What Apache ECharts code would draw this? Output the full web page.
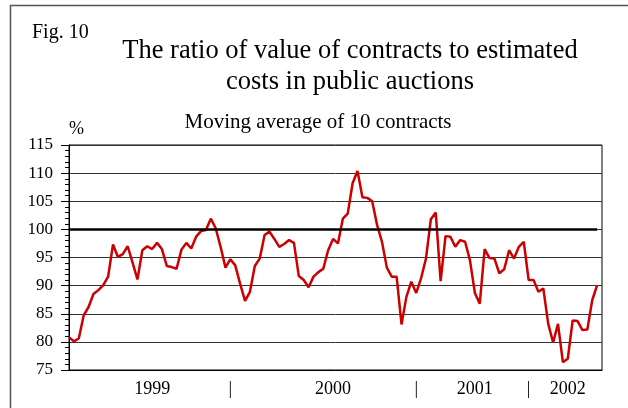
<!DOCTYPE html>
<html>
<head>
<meta charset="utf-8">
<script src="https://cdn.jsdelivr.net/npm/echarts@6/dist/echarts.min.js"></script>
<style>
  html, body { margin: 0; padding: 0; background: #fff; }
  #chart { width: 628px; height: 408px; }
</style>
</head>
<body>
<div id="chart"></div>
<script>
// Ratio (%) of contract value to estimated cost, moving average of 10 contracts
const ratio = [
  80.8, 80.1, 80.6, 84.7, 86.2, 88.5, 89.2, 90.1, 91.6, 97.3,
  95.1, 95.6, 97.0, 94.1, 91.1, 96.3, 97.0, 96.5, 97.6, 96.5,
  93.5, 93.3, 93.0, 96.4, 97.6, 96.6, 98.7, 99.7, 99.9, 101.9,
  100.2, 96.9, 93.2, 94.7, 93.6, 90.3, 87.3, 88.9, 93.5, 94.8,
  99.0, 99.6, 98.3, 96.9, 97.4, 98.1, 97.6, 91.7, 91.0, 89.7,
  91.6, 92.4, 93.0, 96.3, 98.3, 97.5, 101.9, 102.8, 108.2, 110.4,
  105.7, 105.6, 105.0, 100.8, 97.8, 93.2, 91.6, 91.6, 83.1, 88.0,
  90.7, 88.7, 91.3, 94.8, 101.8, 103.0, 90.8, 98.8, 98.7, 96.9,
  98.1, 97.8, 94.5, 88.7, 86.8, 96.5, 94.9, 94.8, 92.2, 92.9,
  96.3, 94.8, 96.9, 97.8, 91.0, 91.0, 88.9, 89.5, 83.2, 79.9,
  83.2, 76.4, 77.0, 83.8, 83.7, 82.1, 82.2, 87.4, 90.1
];

// Break-even level
const parity = 100;

// Category slots along the time axis (one per observation, plus a trailing slot)
const slotCount = 110;
const slots = Array.from({ length: slotCount }, (_, i) => String(i));

// Year labels and separators placed under the time axis
const yearLabels = ['1999', '|', '2000', '|', '2001', '|', '2002'];
const yearLabelSlots = [17, 33, 54, 71, 83, 94, 102];

// Value axis ticks
const yMin = 75, yMax = 115, yStep = 5;

const serif = 'Liberation Serif';
const chart = echarts.init(document.getElementById('chart'));

const labelAt = {};
yearLabelSlots.forEach((s, k) => { labelAt[s] = yearLabels[k]; });

chart.setOption({
  backgroundColor: '#fff',
  animation: false,
  graphic: [{
    type: 'rect',
    shape: { x: 10.5, y: 5.5, width: 700, height: 500 },
    style: { fill: 'none', stroke: '#555', lineWidth: 1.5 },
    silent: true
  }],
  title: [
    {
      text: 'Fig. 10',
      left: 27, top: 18,
      textStyle: { fontFamily: serif, fontSize: 20, fontWeight: 'normal', color: '#000' }
    },
    {
      text: 'The ratio of value of contracts to estimated\ncosts in public auctions',
      left: 345, top: 31, textAlign: 'center',
      textStyle: { fontFamily: serif, fontSize: 26.5, fontWeight: 'normal', color: '#000', lineHeight: 31 }
    },
    {
      text: 'Moving average of 10 contracts',
      left: 313, top: 107, textAlign: 'center',
      textStyle: { fontFamily: serif, fontSize: 21, fontWeight: 'normal', color: '#000' }
    }
  ],
  grid: {
    left: 69, top: 145, right: 26, bottom: 38,
    show: true, borderColor: '#000', borderWidth: 1, backgroundColor: 'transparent'
  },
  xAxis: {
    type: 'category',
    data: slots,
    boundaryGap: false,
    axisLine: { lineStyle: { color: '#000', width: 1 } },
    axisTick: { show: false },
    splitLine: { show: false },
    axisLabel: {
      interval: 0,
      margin: 10,
      fontFamily: serif, fontSize: 18, color: '#000',
      formatter: (v, i) => labelAt[i] || ''
    }
  },
  yAxis: {
    type: 'value',
    min: yMin, max: yMax, interval: yStep,
    name: '%',
    nameLocation: 'end',
    nameGap: 7,
    nameTextStyle: { fontFamily: serif, fontSize: 18, color: '#000', align: 'left' },
    axisLine: { show: true, lineStyle: { color: '#000', width: 1 } },
    axisTick: { show: true, length: 8, lineStyle: { color: '#000' } },
    minorTick: { show: true, splitNumber: 5, length: 4, lineStyle: { color: '#000' } },
    splitLine: { show: true, lineStyle: { color: '#333', width: 1 } },
    axisLabel: { margin: 16, fontFamily: serif, fontSize: 17, color: '#000' }
  },
  series: [{
    type: 'line',
    data: ratio,
    symbol: 'none',
    smooth: false,
    lineStyle: { color: '#cc0000', width: 2.5 },
    z: 3,
    markLine: {
      silent: true,
      symbol: 'none',
      label: { show: false },
      lineStyle: { color: '#000', width: 2.5, type: 'solid' },
      data: [[{ coord: ['0', parity] }, { coord: [String(ratio.length - 1), parity] }]]
    }
  }]
});
</script>
</body>
</html>
